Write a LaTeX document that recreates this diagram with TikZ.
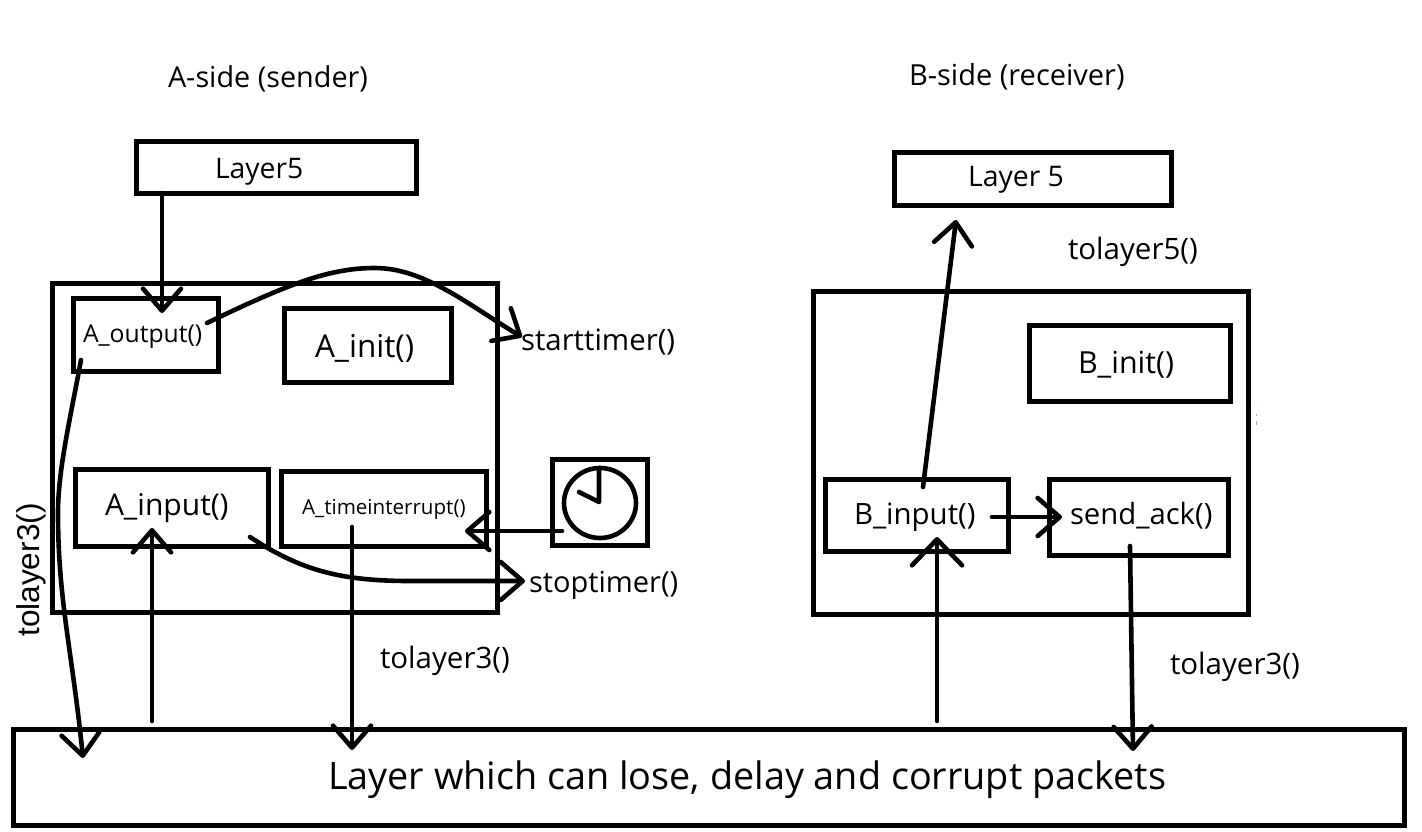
\documentclass[tikz,border=0pt]{standalone}
\usepackage{fontspec}
\setmainfont{Open Sans}
\newfontfamily\arialish{Liberation Sans}
\usetikzlibrary{arrows.meta,shapes.geometric}
\tikzset{
  box/.style={draw=black,line width=5pt,rectangle,inner sep=0pt,outer sep=0pt,miter limit=10},
  lbl/.style={anchor=west,inner sep=0pt,outer sep=0pt,text=black},
  conn/.style={draw=black,line width=4.6pt,line cap=round,-{Straight Barb[length=22pt,width=38pt,line cap=round,round]}},
  plain/.style={draw=black,line width=4.6pt,line cap=round},
}
\newcommand{\boxn}[5]{\node[box,minimum width={(#4-#2)*1pt},minimum height={(#5-#3)*1pt}] (#1) at ({(#2+#4)/2},{(#3+#5)/2}) {};}
\newcommand{\fs}[1]{\fontsize{#1}{#1}\selectfont}
\begin{document}
\begin{tikzpicture}[x=1pt,y=-1pt]
\useasboundingbox[fill=white] (0,0) rectangle (1422,831);
% boxes
\boxn{Alayer}{136}{141}{416}{193}
\boxn{Aouter}{52}{283}{497}{612}
\boxn{Aout}{73}{298}{218}{371}
\boxn{Ainit}{284}{308}{451}{382}
\boxn{Ainp}{75}{469}{268}{546}
\boxn{Atime}{281}{471}{486}{546}
\boxn{Clock}{552}{459}{647}{545}
\boxn{Net}{13}{729}{1404}{825}
\boxn{Blayer}{894}{152}{1171}{205}
\boxn{Bouter}{813}{291}{1248}{614}
\boxn{Binit}{1029}{325}{1230}{401}
\boxn{Binp}{825}{479}{1008}{551}
\boxn{Back}{1049}{479}{1228}{555}
% clock
\node[draw=black,line width=4.6pt,ellipse,minimum width=72pt,minimum height=70pt,inner sep=0pt,outer sep=0pt] (Face) at (600,503) {};
\coordinate (Hub) at (599,502);
\draw[plain,line cap=round,line join=round] (599,468) -- (Hub) -- (579,492);
% text
\node[lbl,font=\fs{28.8}] (t1) at (168,79) {A-side (sender)};
\node[lbl,font=\fs{29}] (t2) at (909,77) {B-side (receiver)};
\node[lbl,font=\fs{28.3}] (t3) at (215,172) {Layer5};
\node[lbl,font=\fs{28.4}] (t4) at (968,180) {Layer 5};
\node[lbl,font=\fs{29.5}] (t5) at (1068,252) {tolayer5()};
\node[lbl,font=\fs{24.7}] (t6) at (83,337) {A\_output()};
\node[lbl,font=\fs{31.5}] (t7) at (315,348) {A\_init()};
\node[lbl,font=\fs{29.4}] (t8) at (521,342) {starttimer()};
\node[lbl,font=\fs{30.4}] (t9) at (1078,365) {B\_init()};
\node[lbl,font=\fs{30}] (t10) at (105,508) {A\_input()};
\node[lbl,font=\fs{20.6}] (t11) at (302,509) {A\_timeinterrupt()};
\node[lbl,font=\fs{29}] (t12) at (529,585) {stoptimer()};
\node[lbl,font=\fs{29.4}] (t13) at (854,517) {B\_input()};
\node[lbl,font=\fs{29.3}] (t14) at (1070,516) {send\_ack()};
\node[lbl,font=\fs{29.5}] (t15) at (380,661) {tolayer3()};
\node[lbl,font=\fs{29.5}] (t16) at (1170,667) {tolayer3()};
\node[inner sep=0pt,outer sep=0pt,rotate=90,font=\fs{31.6}\arialish] (t17) at (31,570) {tolayer3()};
\node[lbl,font=\fs{37.8}] (t18) at (328,780) {Layer which can lose, delay and corrupt packets};
% connector ends
\coordinate (a1) at (162,193); \coordinate (a2) at (162,313);
\coordinate (b1) at (207,323); \coordinate (bm) at (375,268); \coordinate (b2) at (522,337);
\coordinate (c1) at (81,360); \coordinate (cm) at (58,513); \coordinate (c2) at (83,758);
\coordinate (d1) at (152,721); \coordinate (d2) at (152,528);
\coordinate (e1) at (352,527); \coordinate (e2) at (352,750);
\coordinate (f1) at (562,531); \coordinate (f2) at (465,531);
\coordinate (g1) at (250,537); \coordinate (gm) at (410,581); \coordinate (g2) at (525,581);
\coordinate (h1) at (923,487); \coordinate (h2) at (956,220);
\coordinate (i1) at (992,517); \coordinate (i2) at (1062,517);
\coordinate (j1) at (937,721); \coordinate (j2) at (937,537);
\coordinate (k1) at (1130,546); \coordinate (k2) at (1133,751);
% connectors
\draw[conn] (a1) -- (a2);
\draw[conn] (b1) .. controls (290,283) and (330,268) .. (bm) .. controls (425,268) and (470,306) .. (b2);
\draw[conn] (c1) .. controls (70,420) and (58,470) .. (cm) .. controls (58,600) and (72,650) .. (c2);
\draw[conn] (d1) -- (d2);
\draw[conn] (e1) -- (e2);
\draw[conn] (f1) -- (f2);
\draw[conn] (g1) .. controls (300,570) and (340,581) .. (gm) -- (g2);
\draw[conn] (h1) -- (h2);
\draw[conn] (i1) -- (i2);
\draw[conn,-{Straight Barb[length=26pt,width=50pt,line cap=round,round]}] (j1) -- (j2);
\draw[conn] (k1) -- (k2);
% stray mark
\fill[orange!80] (1255.5,414) rectangle (1256.5,416);
\fill[orange!80] (1255.5,421) rectangle (1256.5,425);
\end{tikzpicture}
\end{document}
